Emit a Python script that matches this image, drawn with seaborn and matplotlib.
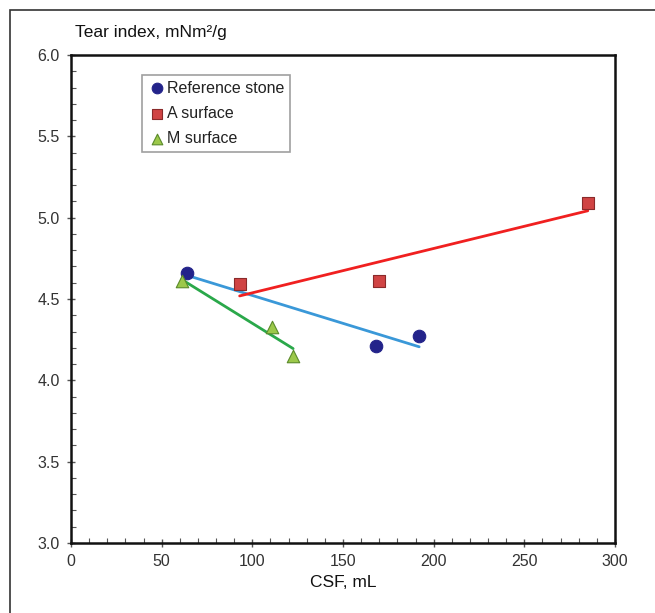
import matplotlib
matplotlib.use("Agg")
import matplotlib.pyplot as plt
from matplotlib.patches import Rectangle
from matplotlib.ticker import MultipleLocator
import seaborn as sns
import pandas as pd

sns.set_theme(style="white")
plt.rcParams['font.family'] = ['Liberation Sans', 'DejaVu Sans']

# Data
ref_csf = [64, 168, 192]
ref_tear = [4.66, 4.21, 4.27]
a_csf = [93, 170, 285]
a_tear = [4.59, 4.61, 5.09]
m_csf = [61, 111, 122.5]
m_tear = [4.61, 4.33, 4.15]
series_names = ["Reference stone", "A surface", "M surface"]

W, H = 655, 613
fig = plt.figure(figsize=(W / 100, H / 100), dpi=100)
ax = fig.add_axes([71 / W, 1 - 543 / H, (615 - 71) / W, (543 - 55) / H])

# figure frame
fig.patches.append(Rectangle((10 / W, -0.05), 1.2, 1 - 10 / H + 0.05,
                             transform=fig.transFigure, fill=False,
                             edgecolor='#333333', linewidth=1.2))

specs = [
    (ref_csf, ref_tear, 'o', '#23238a', '#23238a', '#3a98d8', 9),
    (a_csf, a_tear, 's', '#d04444', '#8a2a2a', '#f02020', 8.5),
    (m_csf, m_tear, '^', '#9cc84a', '#5a8a2a', '#2aa84a', 9),
]

for (xs, ys, mk, fc, ec, lc, ms), name in zip(specs, series_names):
    df = pd.DataFrame({"CSF": xs, "Tear": ys})
    sns.regplot(data=df, x="CSF", y="Tear", ax=ax, ci=None, scatter=False,
                truncate=True, line_kws=dict(color=lc, linewidth=2))
    sns.scatterplot(data=df, x="CSF", y="Tear", ax=ax, marker=mk, s=ms ** 2,
                    color=fc, edgecolor=ec, linewidth=0.8, label=name, zorder=5)

ax.set_xlim(0, 300)
ax.set_ylim(3.0, 6.0)
ax.xaxis.set_major_locator(MultipleLocator(50))
ax.xaxis.set_minor_locator(MultipleLocator(10))
ax.yaxis.set_major_locator(MultipleLocator(0.5))
ax.yaxis.set_minor_locator(MultipleLocator(0.1))
ax.yaxis.set_major_formatter(matplotlib.ticker.FormatStrFormatter('%.1f'))

ax.tick_params(which='major', direction='inout', length=6, width=1, color='#555555',
               labelsize=11.5, labelcolor='#333333', left=True, bottom=True, pad=5)
ax.tick_params(which='minor', direction='in', length=3.5, width=0.8, color='#555555',
               left=True, bottom=True)

for sp in ax.spines.values():
    sp.set_color('#111111')
    sp.set_linewidth(1.8)

ax.set_xlabel("CSF, mL", fontsize=12.5, color='#111111', labelpad=4)
ax.set_ylabel("")
fig.text(75 / W, 1 - 32 / H, "Tear index, mNm²/g", fontsize=12.5,
         color='#111111', va='center', ha='left')

leg = ax.legend(loc='upper left', bbox_to_anchor=((142 - 71) / (615 - 71), 1 - (75 - 55) / (543 - 55)),
                frameon=True, fancybox=False, fontsize=11.5, handletextpad=0.0,
                handlelength=1.2, borderpad=0.35, labelspacing=0.65,
                edgecolor='#888888', borderaxespad=0, markerscale=0.85)
leg.get_frame().set_linewidth(1.2)
for t in leg.get_texts():
    t.set_color('#222222')

fig.savefig("out.png", dpi=100)
